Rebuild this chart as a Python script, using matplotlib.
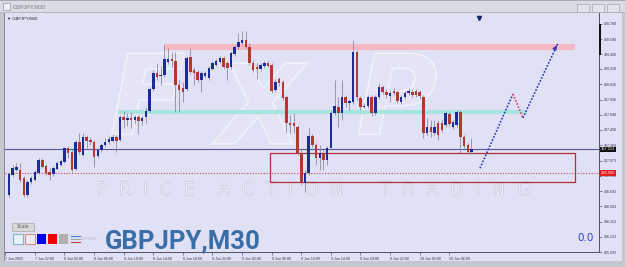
import numpy as np
import matplotlib.pyplot as plt
from matplotlib.patches import Rectangle
import matplotlib.patheffects as pe

# GBPJPY M30 candles (open, high, low, close)
opens = [166.65, 166.89, 166.96, 166.96, 166.86, 166.65, 166.81, 166.83, 166.92, 167.08,
         167.01, 166.93, 166.91, 166.97, 167.02, 167.06, 167.23, 167.18, 166.97, 167.31,
         167.14, 167.37, 167.33, 167.31, 167.13, 167.21, 167.27, 167.31, 167.32, 167.37,
         167.33, 167.62, 167.58, 167.61, 167.58, 167.62, 167.57, 167.62, 167.69, 167.97,
         168.17, 168.13, 168.14, 168.31, 168.34, 168.32, 168.02, 167.98, 167.97, 168.37,
         168.21, 168.18, 168.08, 168.13, 168.11, 168.22, 168.27, 168.31, 168.36, 168.29,
         168.24, 168.41, 168.49, 168.54, 168.58, 168.49, 168.29, 168.24, 168.22, 168.26,
         168.29, 168.27, 167.96, 168.09, 168.06, 167.87, 167.54, 167.54, 167.49, 167.17,
         166.80, 166.92, 167.38, 167.27, 167.11, 167.17, 167.08, 167.23, 167.67, 167.74,
         167.67, 167.87, 167.79, 167.81, 168.43, 167.86, 167.74, 167.76, 167.87, 167.67,
         167.87, 167.99, 167.93, 167.88, 167.94, 167.93, 167.81, 167.87, 167.92, 167.93,
         167.94, 167.93, 167.87, 167.42, 167.49, 167.42, 167.54, 167.54, 167.52, 167.66,
         167.49, 167.52, 167.68, 167.37, 167.27, 167.18]
highs = [166.93, 167.02, 167.05, 167.05, 166.88, 166.83, 166.88, 166.96, 167.11, 167.11,
         167.03, 166.98, 167.01, 167.07, 167.09, 167.24, 167.26, 167.21, 167.33, 167.42,
         167.42, 167.39, 167.37, 167.33, 167.23, 167.29, 167.36, 167.38, 167.41, 167.39,
         167.64, 167.69, 167.67, 167.68, 167.64, 167.64, 167.63, 167.74, 167.99, 168.21,
         168.29, 168.26, 168.52, 168.48, 168.43, 168.43, 168.08, 168.06, 168.38, 168.47,
         168.24, 168.21, 168.19, 168.19, 168.26, 168.32, 168.34, 168.38, 168.38, 168.32,
         168.44, 168.52, 168.67, 168.69, 168.69, 168.54, 168.33, 168.29, 168.29, 168.32,
         168.32, 168.29, 168.09, 168.12, 168.08, 167.88, 167.64, 167.67, 167.52, 167.21,
         166.96, 167.48, 167.41, 167.29, 167.27, 167.21, 167.26, 167.69, 168.08, 167.87,
         168.08, 167.89, 167.84, 168.58, 168.46, 167.88, 167.79, 167.89, 167.89, 167.89,
         168.04, 168.02, 167.97, 167.96, 167.98, 167.96, 167.89, 167.94, 167.98, 167.97,
         167.97, 167.96, 167.89, 167.61, 167.58, 167.58, 167.58, 167.58, 167.69, 167.68,
         167.58, 167.71, 167.71, 167.39, 167.29, 167.36]
lows = [166.62, 166.87, 166.95, 166.81, 166.62, 166.62, 166.78, 166.82, 166.91, 166.98,
        166.90, 166.83, 166.88, 166.96, 167.01, 167.05, 167.11, 166.93, 166.96, 167.16,
        167.13, 167.23, 167.27, 166.99, 167.11, 167.18, 167.24, 167.28, 167.31, 167.18,
        167.32, 167.48, 167.51, 167.48, 167.53, 167.41, 167.52, 167.54, 167.68, 167.94,
        168.08, 168.02, 168.12, 168.28, 168.24, 167.68, 167.68, 167.81, 167.94, 168.16,
        168.02, 168.06, 167.93, 168.11, 168.08, 168.21, 168.26, 168.29, 168.22, 168.08,
        168.22, 168.38, 168.47, 168.52, 168.47, 168.27, 168.18, 168.09, 168.19, 168.23,
        168.24, 167.92, 167.93, 168.01, 167.83, 167.42, 167.42, 167.42, 167.15, 166.77,
        166.68, 166.90, 167.24, 167.02, 166.96, 166.96, 167.02, 167.21, 167.64, 167.49,
        167.58, 167.74, 167.71, 167.78, 167.83, 167.71, 167.73, 167.73, 167.63, 167.64,
        167.84, 167.91, 167.86, 167.81, 167.89, 167.79, 167.78, 167.84, 167.89, 167.87,
        167.87, 167.84, 167.36, 167.39, 167.37, 167.39, 167.33, 167.43, 167.49, 167.51,
        167.47, 167.49, 167.17, 167.23, 167.17, 167.16]
closes = [166.91, 166.98, 166.99, 166.83, 166.65, 166.81, 166.86, 166.93, 167.08, 166.99,
          166.92, 166.90, 166.98, 167.05, 167.07, 167.23, 167.17, 166.96, 167.31, 167.18,
          167.37, 167.32, 167.31, 167.12, 167.21, 167.27, 167.31, 167.34, 167.37, 167.32,
          167.62, 167.58, 167.61, 167.58, 167.62, 167.57, 167.61, 167.69, 167.97, 168.17,
          168.12, 168.14, 168.34, 168.34, 168.32, 168.02, 167.96, 167.93, 168.36, 168.18,
          168.17, 168.08, 168.17, 168.17, 168.23, 168.29, 168.32, 168.36, 168.24, 168.23,
          168.42, 168.49, 168.55, 168.58, 168.49, 168.29, 168.21, 168.22, 168.27, 168.29,
          168.26, 167.94, 168.06, 168.04, 167.86, 167.54, 167.52, 167.51, 167.17, 166.80,
          166.92, 167.38, 167.27, 167.11, 167.17, 167.08, 167.23, 167.67, 167.76, 167.67,
          167.87, 167.79, 167.82, 168.43, 167.87, 167.74, 167.76, 167.87, 167.67, 167.87,
          167.99, 167.93, 167.89, 167.92, 167.92, 167.82, 167.87, 167.92, 167.94, 167.89,
          167.89, 167.88, 167.42, 167.49, 167.43, 167.49, 167.39, 167.46, 167.67, 167.53,
          167.56, 167.68, 167.37, 167.26, 167.18, 167.213]

time_tick_pos = [-1, 7, 15, 23, 31, 39, 47, 55, 63, 71, 79, 87, 95, 103, 111, 119]
time_tick_labels = ["7 Jun 2022", "7 Jun 22:00", "8 Jun 02:00", "8 Jun 06:00", "8 Jun 10:00",
                    "8 Jun 14:00", "8 Jun 18:00", "8 Jun 22:00", "9 Jun 02:00", "9 Jun 06:00",
                    "9 Jun 10:00", "9 Jun 14:00", "9 Jun 18:00", "9 Jun 22:00", "10 Jun 02:00",
                    "10 Jun 06:00"]
price_ticks = [168.780, 168.590, 168.400, 168.218, 168.026, 167.836, 167.648, 167.458,
               167.268, 167.073, 166.883, 166.693, 166.503, 166.313, 166.123, 165.933]

# drawn objects on the chart
resist_zone = (42, 153, 168.455, 168.530)     # pink band: x from, x to, low, high
support_zone = (29.5, 140, 167.650, 167.700)  # cyan band
box_zone = (70.5, 153, 166.804, 167.166)      # red rectangle
bid_price = 167.213
alert_price = 166.925
path_x = [127.3, 136.2, 138.9, 148.4]
path_y = [166.979, 167.906, 167.607, 168.543]

BG = "#e1e1f5"
BULL = "#1b2b9b"
BEAR = "#b5372e"
W, H = 625, 267

fig = plt.figure(figsize=(6.25, 2.67), dpi=100)
fig.patch.set_facecolor(BG)

ax = fig.add_axes([5 / W, (H - 252) / H, 594 / W, 239 / H])
ax.set_facecolor(BG)
ax.set_xlim(-1.08, 159.46)
ax.set_ylim(165.934, 168.917)

# watermark
wm_fx = dict(color=(1, 1, 1, 0.07), zorder=0.5, transform=ax.transAxes, ha="center",
             va="center", fontsize=80, style="italic", fontweight="bold",
             path_effects=[pe.withStroke(linewidth=1.2, foreground=(1, 1, 1, 0.5))])
ax.text(0.24, 0.62, "F", **wm_fx)
ax.text(0.43, 0.58, "X", **wm_fx)
ax.text(0.66, 0.62, "P", **wm_fx)
wm_txt = dict(color="#f7f7fe", zorder=0.6, transform=ax.transAxes, ha="center",
              va="baseline", fontsize=13, fontweight="light",
              path_effects=[pe.withStroke(linewidth=1.0, foreground="#c8c8dc")])
ax.text(0.237, 0.238, "P  R  I  C  E", **wm_txt)
ax.text(0.464, 0.238, "A  C  T  I  O  N", **wm_txt)
ax.text(0.758, 0.238, "T  R  A  D  I  N  G", **wm_txt)

# zones
ax.fill_between(resist_zone[:2], resist_zone[2], resist_zone[3], color="#f5b8c4", lw=0, zorder=1)
ax.fill_between(support_zone[:2], support_zone[2], support_zone[3], color="#a8e4de", lw=0, zorder=1)
ax.add_patch(Rectangle((box_zone[0], box_zone[2]), box_zone[1] - box_zone[0],
                       box_zone[3] - box_zone[2], fill=False, ec="#b03038", lw=0.9, zorder=2))

ax.axhline(bid_price, color="#55559f", lw=0.8, zorder=1.5)
ax.axhline(alert_price, color="#d04048", lw=0.8, ls=(0, (1, 1.5)), zorder=1.5)

# candles
x = np.arange(len(opens))
o = np.array(opens); c = np.array(closes)
cols = np.where(c >= o, BULL, BEAR)
ax.vlines(x, lows, highs, color="#8c8c9c", lw=0.6, zorder=3)
ax.bar(x, np.maximum(np.abs(c - o), 0.008), bottom=np.minimum(o, c), width=0.68,
       color=cols, lw=0, zorder=4)

# projected path
ax.plot(path_x[:2], path_y[:2], color="#2a3cb4", lw=1.2, ls=(0, (1, 1)), zorder=5)
ax.plot(path_x[1:3], path_y[1:3], color="#d0406a", lw=1.2, ls=(0, (1, 1)), zorder=5)
ax.plot(path_x[2:], path_y[2:], color="#2a3cb4", lw=1.2, ls=(0, (1, 1)), zorder=5)
ax.annotate("", xy=(path_x[3], path_y[3]),
            xytext=(path_x[3] - 0.9, path_y[3] - 0.075),
            arrowprops=dict(arrowstyle="-|>", color="#2a3cb4", lw=0.8, mutation_scale=6),
            zorder=6)
ax.plot([127], [168.86], marker="v", ms=3, color="#1a2470", zorder=6)

# axes styling
for s in ["top", "left"]:
    ax.spines[s].set_visible(False)
for s in ["right", "bottom"]:
    ax.spines[s].set_color("#505060")
    ax.spines[s].set_linewidth(0.7)
ax.yaxis.tick_right()
ax.set_yticks(price_ticks)
ax.set_yticklabels([f"{v:.3f}" for v in price_ticks])
ax.set_xticks(time_tick_pos)
ax.set_xticklabels(time_tick_labels)
ax.tick_params(length=2.5, width=0.5, color="#505060", labelsize=2.6,
               labelcolor="#303040", pad=1)
for lbl in ax.get_xticklabels() + ax.get_yticklabels():
    lbl.set_family("Liberation Sans")
for lbl in ax.get_xticklabels():
    lbl.set_ha("left")

lab = dict(transform=ax.get_yaxis_transform(), fontsize=2.8, color="white", va="center",
           ha="left", family="Liberation Sans", zorder=7)
ax.text(1.003, bid_price, f"{bid_price:.3f}",
        bbox=dict(boxstyle="square,pad=0.25", fc="#101010", ec="#101010", lw=0), **lab)
ax.text(1.003, alert_price, f"{alert_price:.3f}",
        bbox=dict(boxstyle="square,pad=0.25", fc="#e02020", ec="#e02020", lw=0), **lab)

# window chrome and panel, pixel coordinates
deco = fig.add_axes([0, 0, 1, 1], zorder=3)
deco.set_xlim(0, W)
deco.set_ylim(H, 0)
deco.axis("off")
deco.patch.set_alpha(0)

deco.add_patch(Rectangle((0, 0), W, 13, fc="#d8dce4", ec="none"))
deco.add_patch(Rectangle((0, 0), W, 1, fc="#a8acb6", ec="none"))
deco.add_patch(Rectangle((0, 12.3), W, 1, fc="#b4b8c2", ec="none"))
deco.add_patch(Rectangle((0, 13), 4, H, fc="#c4c7d0", ec="none"))
deco.add_patch(Rectangle((3.6, 13), 1.2, 248, fc="#8c8e98", ec="none"))
deco.add_patch(Rectangle((622, 13), 3, H, fc="#c4c7d0", ec="none"))
deco.add_patch(Rectangle((0, 261), W, 6, fc="#c4c7d0", ec="none"))
deco.add_patch(Rectangle((0, 260.5), W, 0.8, fc="#9a9ca6", ec="none"))
deco.add_patch(Rectangle((3, 3), 7, 7, fc="#eef0f4", ec="#9098a8", lw=0.5))
deco.text(13, 7, "GBPJPY,M30", fontsize=4, color="#7c808c", va="center", family="Liberation Sans")
for bx in [577, 592, 607]:
    deco.add_patch(Rectangle((bx, 4), 12, 8, fc="#e2e4ea", ec="#a4a8b2", lw=0.5))
deco.text(7, 19, "\u25bc GBPJPY,M30", fontsize=3, color="#202020", va="center",
          family="Liberation Sans")
deco.add_patch(Rectangle((599, 24), 1.6, 31, fc="#111111", ec="none"))

deco.add_patch(Rectangle((12, 223), 22, 8, fc="#d8d8d8", ec="#a8a8a8", lw=0.5))
deco.text(23, 227, "Scale", fontsize=3.5, color="#606060", ha="center", va="center",
          family="Liberation Sans")
deco.add_patch(Rectangle((13, 234), 10, 10, fc="#eaf2f8", ec="#80b0d0", lw=0.8))
deco.add_patch(Rectangle((25, 234), 10, 10, fc="#ececf2", ec="#d09484", lw=0.8))
deco.add_patch(Rectangle((37, 234), 9, 10, fc="#0000ee", ec="none"))
deco.add_patch(Rectangle((48, 234), 9, 10, fc="#ee0000", ec="none"))
deco.add_patch(Rectangle((59, 234), 9, 10, fc="#b0b0b0", ec="none"))
deco.plot([71, 80], [236, 236], color="#4080d0", lw=0.8)
deco.plot([71, 80], [239, 239], color="#a0a0b0", lw=0.8)
deco.plot([71, 80], [242, 242], color="#c04040", lw=0.8)
deco.text(81, 239, "BUTTONS", fontsize=2.5, color="#b4b4cc", va="center", family="Liberation Sans")

deco.text(105, 248, "GBPJPY,M30", fontsize=18.5, color="#3a6ea9", family="Roboto",
          fontweight="bold", va="baseline")
deco.text(577, 241, "0.0", fontsize=7.5, color="#2f3fcf", va="baseline", family="DejaVu Sans")

fig.savefig("out.png", dpi=100, facecolor=fig.get_facecolor())
